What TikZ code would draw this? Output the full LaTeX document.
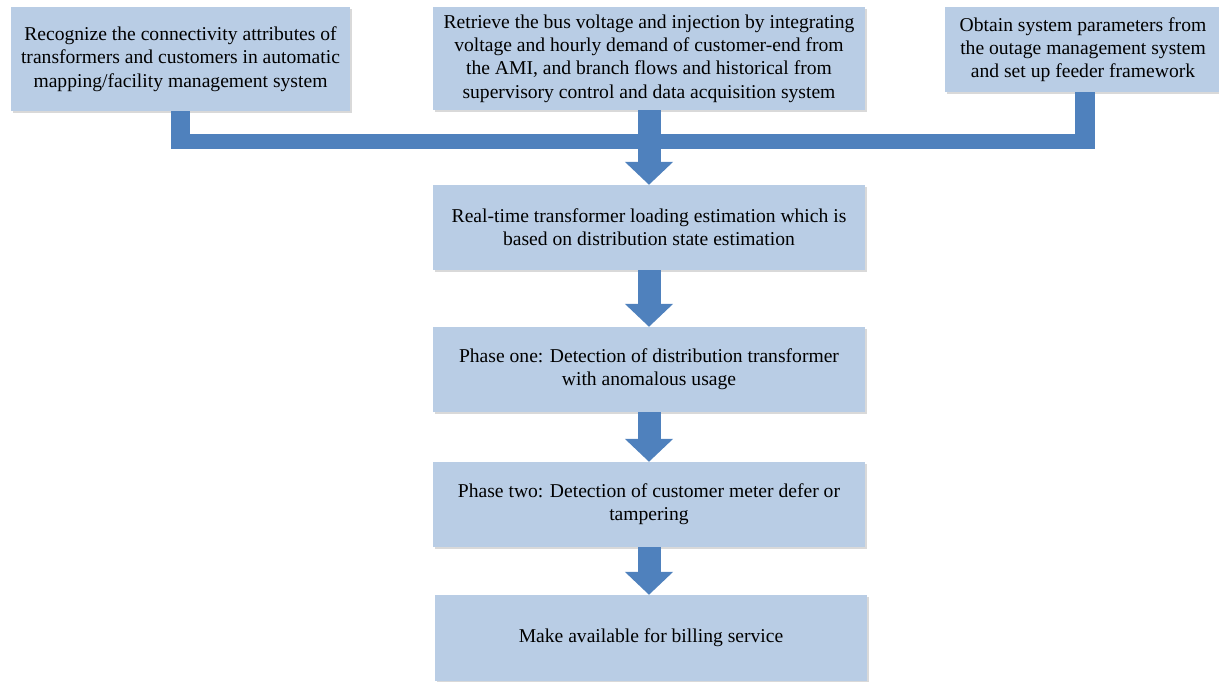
\documentclass[tikz,border=0pt]{standalone}
\usepackage{fontspec}
\setmainfont{Liberation Serif}
\usetikzlibrary{arrows.meta,shadows}
\definecolor{boxblue}{HTML}{B9CDE5}
\definecolor{arrowblue}{HTML}{4F81BD}
\tikzstyle{stage} = [rectangle, fill=boxblue, align=center, inner sep=0pt, font=\fontsize{19.6}{23.3}\selectfont, drop shadow={opacity=0.3, shadow xshift=1.5pt, shadow yshift=-2pt}]
\tikzstyle{flow} = [draw=arrowblue, line width=23pt, -{Triangle[width=47pt,length=23pt]}]
\tikzstyle{bus} = [draw=arrowblue, line width=14.5pt]
\tikzstyle{stub} = [draw=arrowblue, line width=19.5pt]

\begin{document}
\begin{tikzpicture}[x=1pt, y=-1pt]
    \useasboundingbox (0,0) rectangle (1219,681);
    % Draw the input boxes.
    \node [stage, minimum width=339pt, minimum height=104pt] (ams) at (180.5, 59)
        {Recognize the connectivity attributes of\\transformers and customers in automatic\\mapping/facility management system};
    \node [stage, minimum width=432pt, minimum height=103pt] (ami) at (649, 58.5)
        {Retrieve the bus voltage and injection by integrating\\voltage and hourly demand of customer-end from\\the AMI, and branch flows and historical from\\supervisory control and data acquisition system};
    \node [stage, minimum width=276pt, minimum height=85pt] (oms) at (1083, 49.5)
        {Obtain system parameters from\\the outage management system\\and set up feeder framework};
    % Draw the processing steps.
    \node [stage, minimum width=432pt, minimum height=85pt] (tle) at (649, 227.5)
        {Real-time transformer loading estimation which is\\based on distribution state estimation};
    \node [stage, minimum width=432pt, minimum height=85pt] (one) at (649, 369.5)
        {Phase one: Detection of distribution transformer\\with anomalous usage};
    \node [stage, minimum width=432pt, minimum height=85pt] (two) at (649, 504.5)
        {Phase two: Detection of customer meter defer or\\tampering};
    \node [stage, minimum width=432pt, minimum height=86pt] (bill) at (651, 638)
        {Make available for billing service};
    % Collecting bus.
    \coordinate (busl) at (172, 141.5);
    \coordinate (busr) at (1095, 141.5);
    \draw [stub] (ams.south) -- ++(0, 38);
    \draw [stub] ([xshift=2pt]oms.south) -- ++(0, 57);
    \draw [bus] (busl) -- (busr);
    % Flow arrows.
    \draw [flow] (ami.south) -- (tle.north);
    \draw [flow] (tle.south) -- (one.north);
    \draw [flow] (one.south) -- (two.north);
    \draw [flow] (two.south) -- (two.south |- bill.north);
\end{tikzpicture}
\end{document}
